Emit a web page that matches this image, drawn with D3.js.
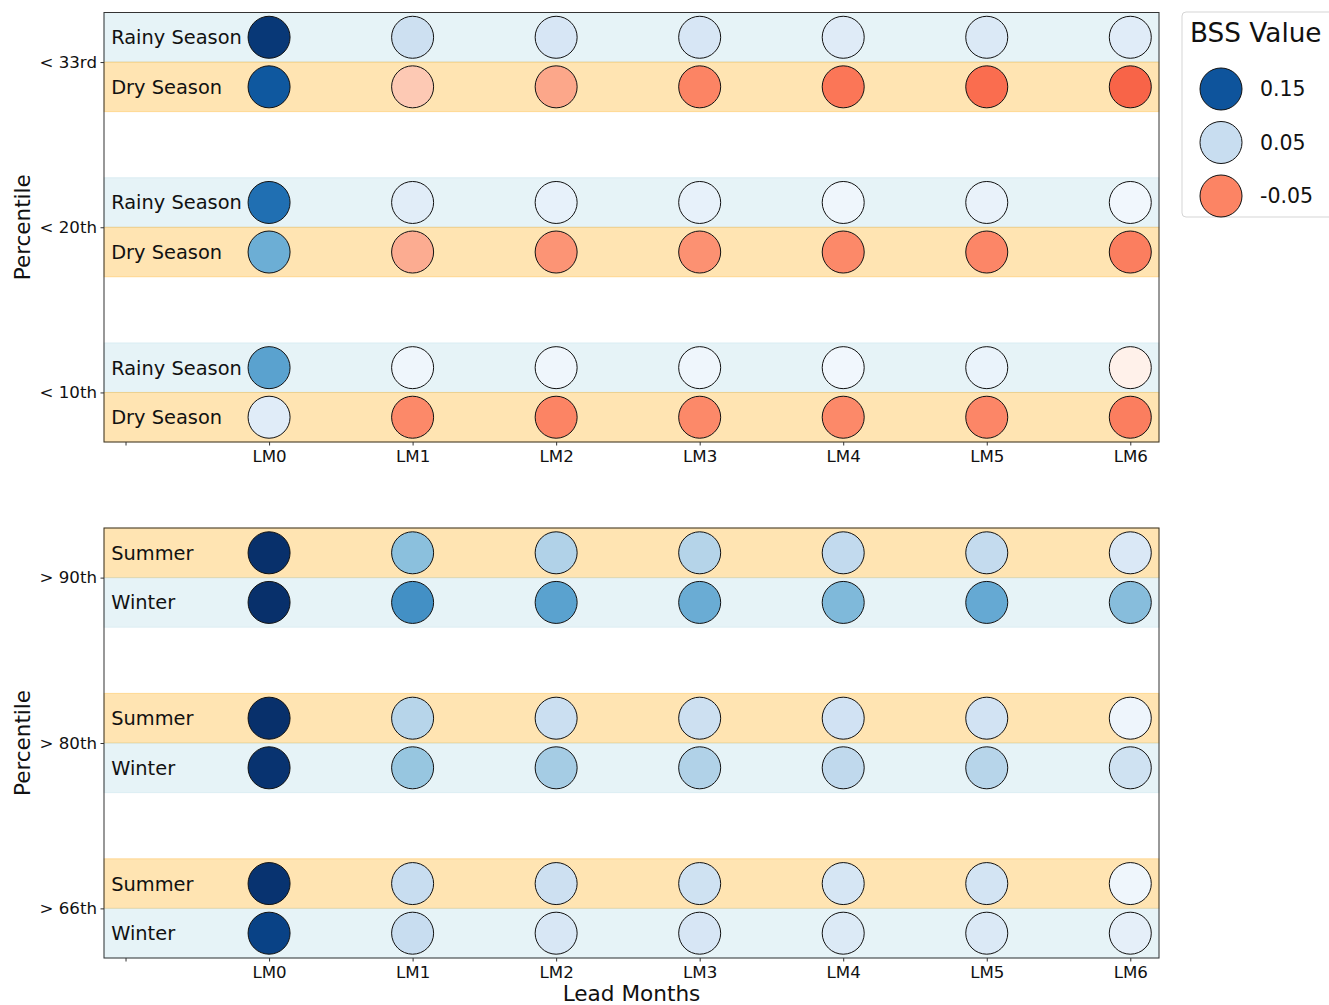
<!DOCTYPE html>
<html>
<head>
<meta charset="utf-8">
<script src="https://cdn.jsdelivr.net/npm/d3@7"></script>
<style>
  body { margin: 0; background: #fff; }
  svg { display: block; font-family: "DejaVu Sans", sans-serif; }
</style>
</head>
<body>
<div id="chart"></div>
<script>
// lead months on the x axis (first slot is the label column)
const leadMonths = ['LM0', 'LM1', 'LM2', 'LM3', 'LM4', 'LM5', 'LM6'];

// top panel: dry extremes
const dryPercentiles = ['< 33rd', '< 20th', '< 10th'];
const rainySeasonBss = [
  [0.167, 0.047, 0.039, 0.039, 0.033, 0.036, 0.032],
  [0.134, 0.031, 0.026, 0.026, 0.020, 0.025, 0.018],
  [0.101, 0.020, 0.020, 0.020, 0.018, 0.024, -0.003]
];
const drySeasonBss = [
  [0.148, -0.024, -0.037, -0.050, -0.055, -0.058, -0.061],
  [0.093, -0.035, -0.044, -0.045, -0.048, -0.049, -0.052],
  [0.032, -0.048, -0.050, -0.048, -0.048, -0.049, -0.052]
];

// bottom panel: wet extremes
const wetPercentiles = ['> 90th', '> 80th', '> 66th'];
const summerBss = [
  [0.175, 0.080, 0.063, 0.061, 0.054, 0.053, 0.037],
  [0.172, 0.060, 0.048, 0.047, 0.044, 0.043, 0.021],
  [0.170, 0.050, 0.047, 0.045, 0.040, 0.042, 0.020]
];
const winterBss = [
  [0.175, 0.113, 0.101, 0.094, 0.085, 0.096, 0.082],
  [0.170, 0.075, 0.069, 0.063, 0.055, 0.060, 0.045],
  [0.161, 0.050, 0.038, 0.039, 0.035, 0.036, 0.028]
];

const legendValues = [0.15, 0.05, -0.05];

const W = 1329, H = 1005;
const svg = d3.select('#chart').append('svg')
  .attr('width', W).attr('height', H);

const blues = d3.scaleSequential(d3.interpolateBlues).domain([0.0135, 0.172]).clamp(true);
const reds = d3.scaleSequential(d3.interpolateReds).domain([0, -0.119]).clamp(true);
const bssColor = v => v >= 0 ? blues(v) : reds(v);

const bandColors = { blue: '#add8e6', orange: '#ffa500' };

const x = d3.scaleLinear().domain([-1.15, 6.2]).range([104, 1159]);
const R = 21;

function drawPanel(top, bottom, percentiles, rows, showXLabel) {
  const y = d3.scaleLinear().domain([-0.3, percentiles.length - 1 + 0.3]).range([top, bottom]);
  const g = svg.append('g');

  // background bands
  percentiles.forEach((p, i) => {
    rows.forEach((row, r) => {
      const y0 = r === 0 ? i - 0.3 : i;
      g.append('rect')
        .attr('x', x(-1.15)).attr('width', x(6.2) - x(-1.15))
        .attr('y', y(y0)).attr('height', y(y0 + 0.3) - y(y0))
        .attr('fill', bandColors[row.band]).attr('fill-opacity', 0.3)
        .attr('stroke', bandColors[row.band]).attr('stroke-opacity', 0.3)
        .attr('stroke-width', 1);
    });
  });

  // row labels and circles
  percentiles.forEach((p, i) => {
    rows.forEach((row, r) => {
      const yc = r === 0 ? i - 0.15 : i + 0.15;
      g.append('text')
        .attr('x', x(-1.1)).attr('y', y(yc)).attr('dy', '0.36em')
        .attr('font-size', 19.4).attr('fill', '#111')
        .text(row.name);
      g.selectAll(null)
        .data(row.values[i])
        .enter().append('circle')
        .attr('cx', (d, k) => x(k))
        .attr('cy', y(yc))
        .attr('r', R)
        .attr('fill', d => bssColor(d))
        .attr('stroke', '#111').attr('stroke-width', 1);
    });
  });

  // axes
  const xAxis = d3.axisBottom(x)
    .tickValues(d3.range(-1, 7))
    .tickFormat(d => d < 0 ? '' : leadMonths[d])
    .tickSize(3.5).tickPadding(5);
  const xg = g.append('g').attr('transform', `translate(0,${bottom})`).call(xAxis);
  xg.select('.domain').remove();
  xg.selectAll('text').attr('font-size', 16.67).attr('fill', '#111').attr('font-family', 'DejaVu Sans');
  xg.selectAll('line').attr('stroke', '#333');

  const yAxis = d3.axisLeft(y)
    .tickValues(d3.range(percentiles.length))
    .tickFormat(d => percentiles[d])
    .tickSize(3.5).tickPadding(3.5);
  const yg = g.append('g').attr('transform', `translate(${x(-1.15)},0)`).call(yAxis);
  yg.select('.domain').remove();
  yg.selectAll('text').attr('font-size', 16.67).attr('fill', '#111').attr('font-family', 'DejaVu Sans');
  yg.selectAll('line').attr('stroke', '#333');

  // frame
  g.append('rect')
    .attr('x', x(-1.15)).attr('y', top)
    .attr('width', x(6.2) - x(-1.15)).attr('height', bottom - top)
    .attr('fill', 'none').attr('stroke', '#333').attr('stroke-width', 1);

  g.append('text')
    .attr('transform', `translate(30,${(top + bottom) / 2}) rotate(-90)`)
    .attr('text-anchor', 'middle')
    .attr('font-size', 21.5).attr('fill', '#111')
    .text('Percentile');

  if (showXLabel) {
    g.append('text')
      .attr('x', (x(-1.15) + x(6.2)) / 2).attr('y', 1001)
      .attr('text-anchor', 'middle')
      .attr('font-size', 21.6).attr('fill', '#111')
      .text('Lead Months');
  }
}

drawPanel(12.5, 442, dryPercentiles, [
  { name: 'Rainy Season', band: 'blue', values: rainySeasonBss },
  { name: 'Dry Season', band: 'orange', values: drySeasonBss }
], false);

drawPanel(528, 958, wetPercentiles, [
  { name: 'Summer', band: 'orange', values: summerBss },
  { name: 'Winter', band: 'blue', values: winterBss }
], true);

// legend
const lg = svg.append('g');
lg.append('rect')
  .attr('x', 1182).attr('y', 12).attr('width', 170).attr('height', 205)
  .attr('rx', 4).attr('fill', '#fff').attr('fill-opacity', 0.8)
  .attr('stroke', '#d5d5d5').attr('stroke-width', 1);
lg.append('text')
  .attr('x', 1190).attr('y', 33).attr('dy', '0.36em')
  .attr('font-size', 26.3).attr('fill', '#111')
  .text('BSS Value');
const ly = d3.scalePoint().domain(legendValues).range([89, 196]);
lg.selectAll('circle.leg')
  .data(legendValues)
  .enter().append('circle')
  .attr('cx', 1221).attr('cy', d => ly(d)).attr('r', R)
  .attr('fill', d => bssColor(d))
  .attr('stroke', '#111').attr('stroke-width', 1);
lg.selectAll('text.leg')
  .data(legendValues)
  .enter().append('text')
  .attr('x', 1260).attr('y', d => ly(d)).attr('dy', '0.36em')
  .attr('font-size', 20.5).attr('fill', '#111')
  .text(d => d.toFixed(2));
</script>
</body>
</html>
